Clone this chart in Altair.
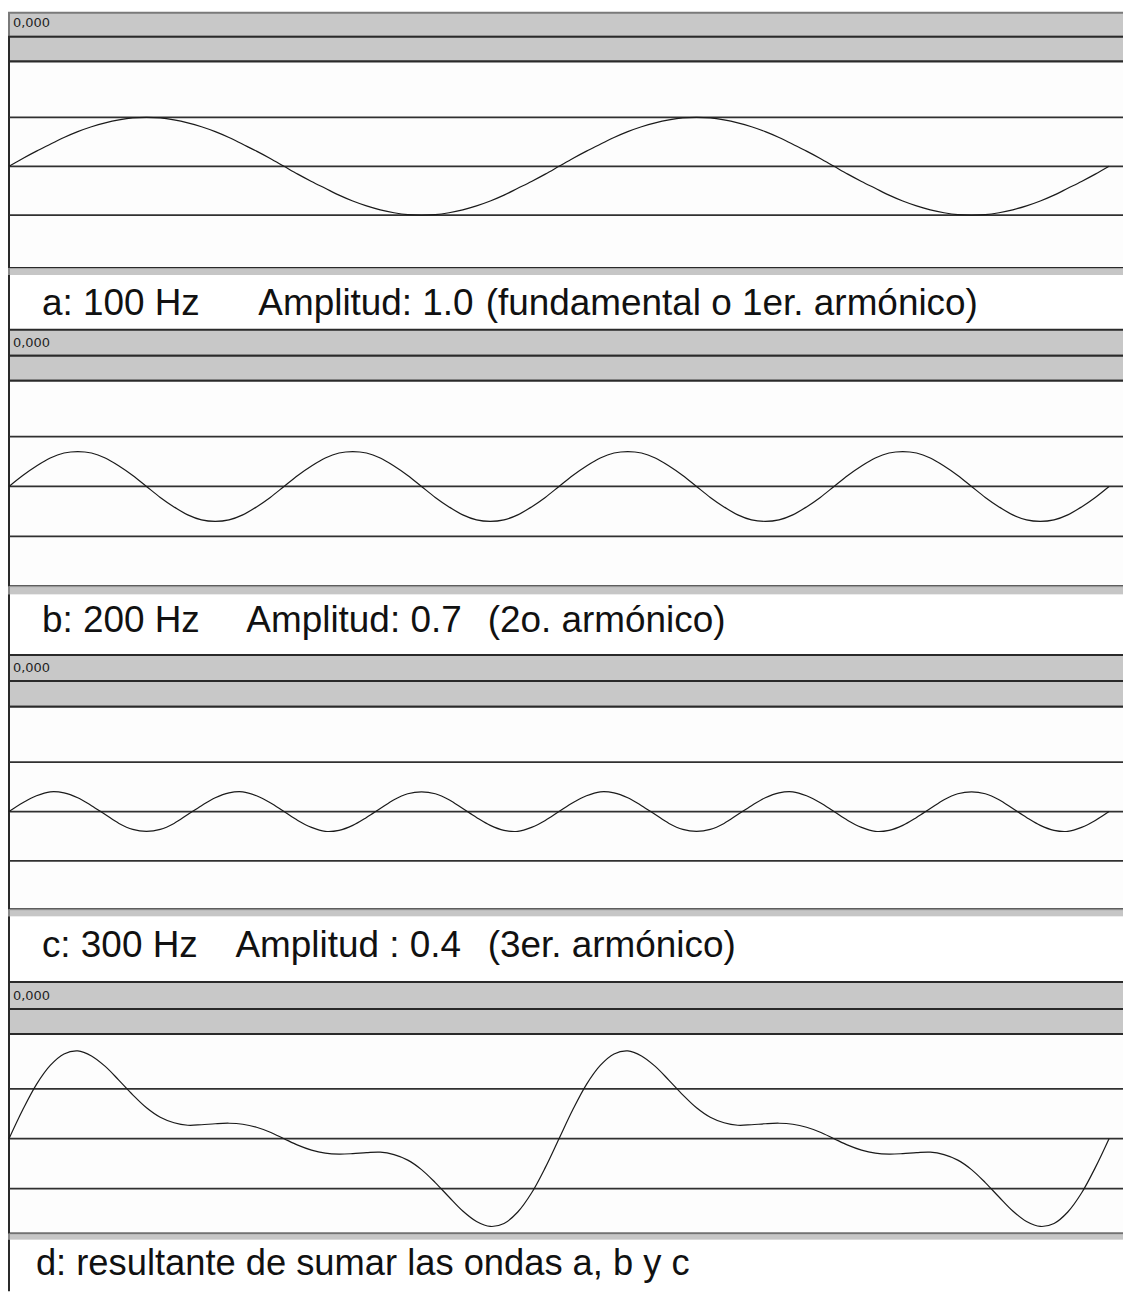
import altair as alt
import pandas as pd

# ---------------- data ----------------
t_ms = [0, 0.25, 0.5, 0.75, 1, 1.25, 1.5, 1.75, 2, 2.25, 2.5, 2.75, 3, 3.25, 3.5, 3.75,
        4, 4.25, 4.5, 4.75, 5, 5.25, 5.5, 5.75, 6, 6.25, 6.5, 6.75, 7, 7.25, 7.5, 7.75,
        8, 8.25, 8.5, 8.75, 9, 9.25, 9.5, 9.75, 10, 10.25, 10.5, 10.75, 11, 11.25, 11.5, 11.75,
        12, 12.25, 12.5, 12.75, 13, 13.25, 13.5, 13.75, 14, 14.25, 14.5, 14.75, 15, 15.25, 15.5, 15.75,
        16, 16.25, 16.5, 16.75, 17, 17.25, 17.5, 17.75, 18, 18.25, 18.5, 18.75, 19, 19.25, 19.5, 19.75, 20]

wave_a = [0, 0.16, 0.31, 0.45, 0.59, 0.71, 0.81, 0.89, 0.95, 0.99, 1.0, 0.99, 0.95, 0.89, 0.81, 0.71,
          0.59, 0.45, 0.31, 0.16, 0, -0.16, -0.31, -0.45, -0.59, -0.71, -0.81, -0.89, -0.95, -0.99, -1.0, -0.99,
          -0.95, -0.89, -0.81, -0.71, -0.59, -0.45, -0.31, -0.16, 0, 0.16, 0.31, 0.45, 0.59, 0.71, 0.81, 0.89,
          0.95, 0.99, 1.0, 0.99, 0.95, 0.89, 0.81, 0.71, 0.59, 0.45, 0.31, 0.16, 0, -0.16, -0.31, -0.45,
          -0.59, -0.71, -0.81, -0.89, -0.95, -0.99, -1.0, -0.99, -0.95, -0.89, -0.81, -0.71, -0.59, -0.45, -0.31, -0.16, 0]

wave_b = [0, 0.22, 0.41, 0.57, 0.67, 0.70, 0.67, 0.57, 0.41, 0.22, 0, -0.22, -0.41, -0.57, -0.67, -0.70,
          -0.67, -0.57, -0.41, -0.22, 0, 0.22, 0.41, 0.57, 0.67, 0.70, 0.67, 0.57, 0.41, 0.22, 0, -0.22,
          -0.41, -0.57, -0.67, -0.70, -0.67, -0.57, -0.41, -0.22, 0, 0.22, 0.41, 0.57, 0.67, 0.70, 0.67, 0.57,
          0.41, 0.22, 0, -0.22, -0.41, -0.57, -0.67, -0.70, -0.67, -0.57, -0.41, -0.22, 0, 0.22, 0.41, 0.57,
          0.67, 0.70, 0.67, 0.57, 0.41, 0.22, 0, -0.22, -0.41, -0.57, -0.67, -0.70, -0.67, -0.57, -0.41, -0.22, 0]

wave_c = [0, 0.18, 0.32, 0.40, 0.38, 0.28, 0.12, -0.06, -0.24, -0.36, -0.40, -0.36, -0.24, -0.06, 0.12, 0.28,
          0.38, 0.40, 0.32, 0.18, 0, -0.18, -0.32, -0.40, -0.38, -0.28, -0.12, 0.06, 0.24, 0.36, 0.40, 0.36,
          0.24, 0.06, -0.12, -0.28, -0.38, -0.40, -0.32, -0.18, 0, 0.18, 0.32, 0.40, 0.38, 0.28, 0.12, -0.06,
          -0.24, -0.36, -0.40, -0.36, -0.24, -0.06, 0.12, 0.28, 0.38, 0.40, 0.32, 0.18, 0, -0.18, -0.32, -0.40,
          -0.38, -0.28, -0.12, 0.06, 0.24, 0.36, 0.40, 0.36, 0.24, 0.06, -0.12, -0.28, -0.38, -0.40, -0.32, -0.18, 0]

wave_d = [0, 0.58, 1.09, 1.47, 1.70, 1.76, 1.66, 1.45, 1.17, 0.88, 0.62, 0.43, 0.32, 0.27, 0.28, 0.30,
          0.31, 0.29, 0.23, 0.13, 0, -0.13, -0.23, -0.29, -0.31, -0.30, -0.28, -0.27, -0.32, -0.43, -0.62, -0.88,
          -1.17, -1.45, -1.66, -1.76, -1.70, -1.47, -1.09, -0.58, 0, 0.58, 1.09, 1.47, 1.70, 1.76, 1.66, 1.45,
          1.17, 0.88, 0.62, 0.43, 0.32, 0.27, 0.28, 0.30, 0.31, 0.29, 0.23, 0.13, 0, -0.13, -0.23, -0.29,
          -0.31, -0.30, -0.28, -0.27, -0.32, -0.43, -0.62, -0.88, -1.17, -1.45, -1.66, -1.76, -1.70, -1.47, -1.09, -0.58, 0]

grid_levels = [-1, 0, 1]
ruler_label_times = [0]
ruler_labels = ["0,000"]

captions = [
    ["a: 100 Hz", "Amplitud: 1.0", "(fundamental o 1er. armónico)"],
    ["b: 200 Hz", "Amplitud: 0.7", "(2o. armónico)"],
    ["c: 300 Hz", "Amplitud : 0.4", "(3er. armónico)"],
    ["d: resultante de sumar las ondas a, b y c"],
]

# ---------------- layout / style ----------------
W = 1118
XMAX = 20 * W / 1103
GRAY = "#c8c8c8"
DARK = "#2a2a2a"
CAP_FONT = "Liberation Sans"

panels = [
    dict(wave=wave_a, ruler_h=24, bar_h=25, wave_h=207, band_h=7, cap_h=55,
         ydom=[-102 / 49, 105 / 49], cap_x=[33, 250, 478], cap_base=40, cap_size=37,
         label_y=10, ruler_stroke="#7a7a7a"),
    dict(wave=wave_b, ruler_h=26, bar_h=25, wave_h=206, band_h=8, cap_h=61,
         ydom=[-100 / 50, 106 / 50], cap_x=[33, 238, 480], cap_base=38, cap_size=37,
         label_y=13, ruler_stroke=DARK),
    dict(wave=wave_c, ruler_h=26, bar_h=26, wave_h=203, band_h=7, cap_h=66,
         ydom=[-98 / 49.5, 105 / 49.5], cap_x=[33, 227, 480], cap_base=41, cap_size=37,
         label_y=13, ruler_stroke=DARK),
    dict(wave=wave_d, ruler_h=27, bar_h=25, wave_h=200, band_h=6, cap_h=52,
         ydom=[-95 / 50, 105 / 50], cap_x=[27], cap_base=36, cap_size=36.4,
         label_y=14, ruler_stroke=DARK),
]


def xenc():
    return alt.X("t:Q", scale=alt.Scale(domain=[0, XMAX], nice=False, zero=False), axis=None)


def build_panel(i, p):
    charts = []
    # ruler bar with time label
    ruler = alt.Chart(pd.DataFrame({"t": ruler_label_times, "label": ruler_labels})).mark_text(
        align="left", baseline="middle", dx=4, font="DejaVu Sans", fontSize=13, color="#1e1e1e"
    ).encode(x=xenc(), y=alt.value(p["label_y"]), text="label:N").properties(
        width=W, height=p["ruler_h"],
        view=alt.ViewBackground(fill=GRAY, stroke=p["ruler_stroke"], strokeWidth=2))
    charts.append(ruler)

    # second grey bar
    bar = alt.Chart(pd.DataFrame({"t": [0]})).mark_rule(strokeOpacity=0).encode(x=xenc()).properties(
        width=W, height=p["bar_h"],
        view=alt.ViewBackground(fill=GRAY, stroke=DARK, strokeWidth=2))
    charts.append(bar)

    # waveform panel
    yscale = alt.Scale(domain=p["ydom"], nice=False, zero=False)
    grid = alt.Chart(pd.DataFrame({"level": grid_levels})).mark_rule(color="#303030", strokeWidth=1.8).encode(
        y=alt.Y("level:Q", scale=yscale, axis=None))
    line = alt.Chart(pd.DataFrame({"t": t_ms, "v": p["wave"]})).mark_line(
        color="#1a1a1a", strokeWidth=1.2, interpolate="catmull-rom"
    ).encode(x=xenc(), y=alt.Y("v:Q", scale=yscale, axis=None))
    wave = alt.layer(grid, line).properties(
        width=W, height=p["wave_h"],
        view=alt.ViewBackground(fill="#fdfdfd", stroke=DARK, strokeWidth=2))
    charts.append(wave)

    # light grey band under the wave
    band = alt.Chart(pd.DataFrame({"t": [0]})).mark_rule(color="#8a8a8a", strokeWidth=2).encode(x=xenc()).properties(
        width=W, height=p["band_h"],
        view=alt.ViewBackground(fill="#c6c6c6", stroke="#a8a8a8", strokeWidth=1))
    charts.append(band)

    # caption
    border = alt.Chart(pd.DataFrame({"t": [0]})).mark_rule(color=DARK, strokeWidth=2).encode(x=xenc())
    texts = []
    for txt, xp in zip(captions[i], p["cap_x"]):
        texts.append(
            alt.Chart(pd.DataFrame({"label": [txt]})).mark_text(
                align="left", baseline="alphabetic", font=CAP_FONT, fontSize=p["cap_size"], color="#111111"
            ).encode(x=alt.value(xp), y=alt.value(p["cap_base"]), text="label:N"))
    cap = alt.layer(border, *texts).properties(
        width=W, height=p["cap_h"],
        view=alt.ViewBackground(fill="#ffffff", stroke="transparent", strokeWidth=0))
    charts.append(cap)
    return charts


all_charts = []
for i, p in enumerate(panels):
    all_charts.extend(build_panel(i, p))

chart = alt.vconcat(*all_charts, spacing=0, bounds="flush").properties(
    padding={"left": -3, "top": 2, "right": -3, "bottom": 0},
    background="#ffffff",
)

chart.save("out.html", embed_options={"renderer": "svg", "actions": False})
